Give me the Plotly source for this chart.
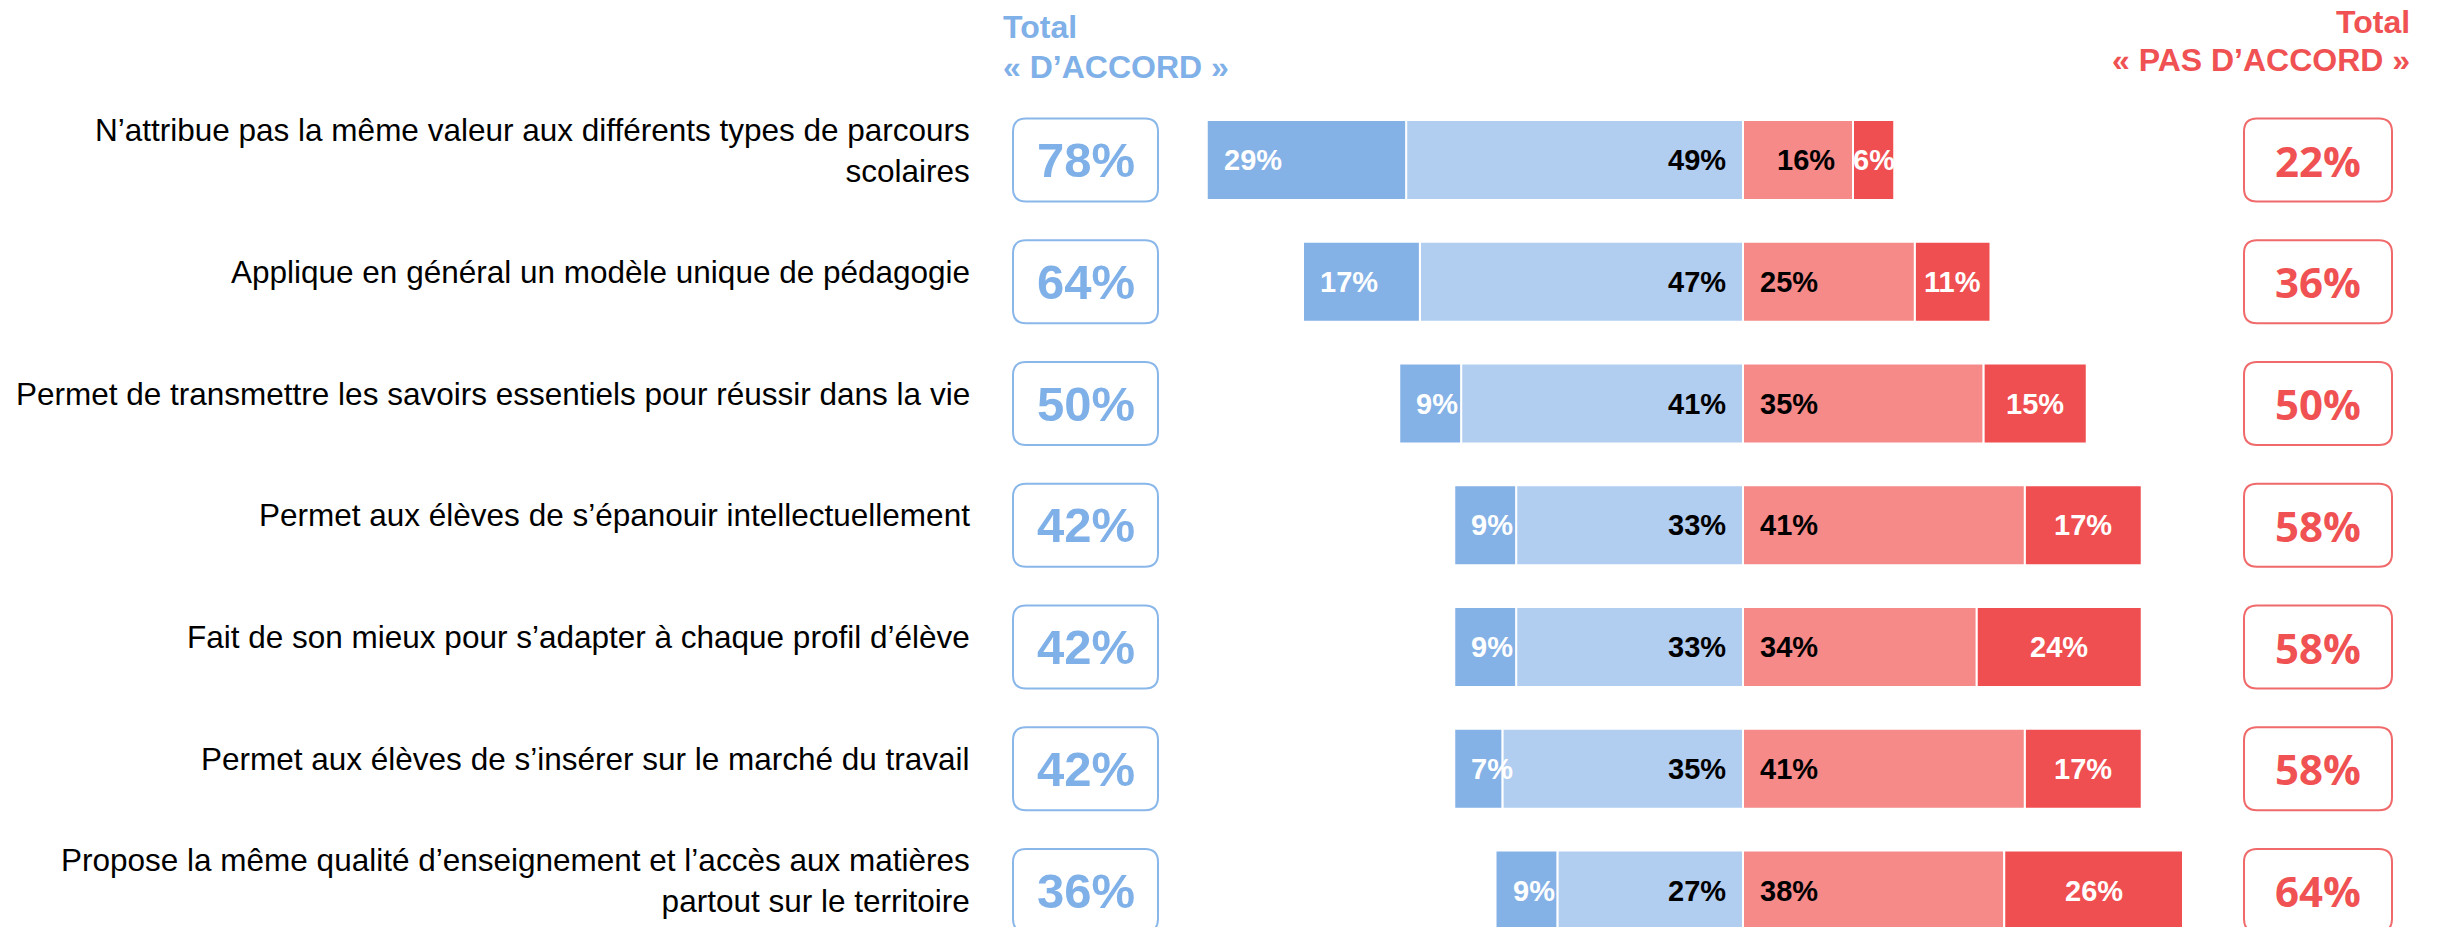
import plotly.graph_objects as go

# ---------------- data ----------------
items = [
    "N’attribue pas la même valeur aux différents types de parcours<br>scolaires",
    "Applique en général un modèle unique de pédagogie",
    "Permet de transmettre les savoirs essentiels pour réussir dans la vie",
    "Permet aux élèves de s’épanouir intellectuellement",
    "Fait de son mieux pour s’adapter à chaque profil d’élève",
    "Permet aux élèves de s’insérer sur le marché du travail",
    "Propose la même qualité d’enseignement et l’accès aux matières<br>partout sur le territoire",
]
tout_a_fait_accord = [29, 17, 9, 9, 9, 7, 9]
plutot_accord = [49, 47, 41, 33, 33, 35, 27]
plutot_pas_accord = [16, 25, 35, 41, 34, 41, 38]
pas_du_tout_accord = [6, 11, 15, 17, 24, 17, 26]
total_accord = [78, 64, 50, 42, 42, 42, 36]
total_pas_accord = [22, 36, 50, 58, 58, 58, 64]
header_accord = ["Total", "« D’ACCORD »"]
header_pas = ["Total", "« PAS D’ACCORD »"]

# ---------------- styling ----------------
W, H = 2438, 927
C_DB = "#84B1E6"
C_LB = "#B1CDF0"
C_LR = "#F58A89"
C_DR = "#F04F51"
C_HB = "#7FB0E8"
C_HR = "#F05253"

def px_x(p):  # page px -> paper x
    return p / W

def px_y(p):  # page px -> paper y
    return 1 - p / H

rows = list(range(len(items)))
px_per_pct = 6.875
center_px = 1743
x0 = -center_px / px_per_pct
x1 = x0 + W / px_per_pct
row_px = 121.75
first_px = 160.0
y_top = -first_px / row_px
y_bot = y_top + H / row_px
bar_w = 80 / row_px

fig = go.Figure()
line = dict(color="white", width=2)
fig.add_trace(go.Bar(y=rows, x=plutot_accord, base=[-v for v in plutot_accord],
                     orientation="h", marker=dict(color=C_LB, line=line), width=bar_w,
                     hoverinfo="skip"))
fig.add_trace(go.Bar(y=rows, x=tout_a_fait_accord,
                     base=[-(a + b) for a, b in zip(plutot_accord, tout_a_fait_accord)],
                     orientation="h", marker=dict(color=C_DB, line=line), width=bar_w,
                     hoverinfo="skip"))
fig.add_trace(go.Bar(y=rows, x=plutot_pas_accord, base=[0] * len(rows),
                     orientation="h", marker=dict(color=C_LR, line=line), width=bar_w,
                     hoverinfo="skip"))
fig.add_trace(go.Bar(y=rows, x=pas_du_tout_accord, base=plutot_pas_accord,
                     orientation="h", marker=dict(color=C_DR, line=line), width=bar_w,
                     hoverinfo="skip"))

ann = []
shapes = []
bar_font = dict(family="Liberation Sans, Arial", size=29, weight="bold")
lab_font = dict(family="Liberation Sans, Arial", size=31.5, color="#000000")

def rrect(p0, p1, yc, hpx, r, color):
    xa, xb = px_x(p0), px_x(p1)
    rx = r / W
    ya = yc - hpx / 2 / row_px
    yb = yc + hpx / 2 / row_px
    ry = r / row_px
    path = (f"M {xa+rx},{ya} L {xb-rx},{ya} Q {xb},{ya} {xb},{ya+ry} "
            f"L {xb},{yb-ry} Q {xb},{yb} {xb-rx},{yb} L {xa+rx},{yb} "
            f"Q {xa},{yb} {xa},{yb-ry} L {xa},{ya+ry} Q {xa},{ya} {xa+rx},{ya} Z")
    return dict(type="path", path=path, xref="paper", yref="y",
                line=dict(color=color, width=2), fillcolor="rgba(0,0,0,0)", layer="above")

for i in rows:
    # row labels
    ann.append(dict(x=px_x(972), xref="paper", y=i, yref="y", text=items[i],
                    xanchor="right", yanchor="middle", align="right", showarrow=False,
                    font=lab_font, yshift=10))
    # segment labels
    ann.append(dict(x=-total_accord[i], y=i, xref="x", yref="y",
                    text=f"{tout_a_fait_accord[i]}%", xanchor="left", xshift=15,
                    showarrow=False, font=dict(bar_font, color="white")))
    ann.append(dict(x=0, y=i, xref="x", yref="y", text=f"{plutot_accord[i]}%",
                    xanchor="right", xshift=-15, showarrow=False,
                    font=dict(bar_font, color="black")))
    if plutot_pas_accord[i] < 20:
        ann.append(dict(x=plutot_pas_accord[i] / 2, y=i, xref="x", yref="y",
                        text=f"{plutot_pas_accord[i]}%", xanchor="center", xshift=8,
                        showarrow=False, font=dict(bar_font, color="black")))
    else:
        ann.append(dict(x=0, y=i, xref="x", yref="y", text=f"{plutot_pas_accord[i]}%",
                        xanchor="left", xshift=15, showarrow=False,
                        font=dict(bar_font, color="black")))
    ann.append(dict(x=plutot_pas_accord[i] + pas_du_tout_accord[i] / 2, y=i,
                    xref="x", yref="y", text=f"{pas_du_tout_accord[i]}%",
                    xanchor="center", showarrow=False, font=dict(bar_font, color="white")))
    # totals boxes
    shapes.append(rrect(1013, 1158, i, 83, 13, "#8AB7EA"))
    shapes.append(rrect(2244, 2392, i, 83, 13, "#F06A6B"))
    ann.append(dict(x=px_x(1085.5), xref="paper", y=i, yref="y", text=f"{total_accord[i]}%",
                    xanchor="center", showarrow=False,
                    font=dict(family="Liberation Sans, Arial", size=49, weight="bold", color=C_HB)))
    ann.append(dict(x=px_x(2318), xref="paper", y=i, yref="y", text=f"{total_pas_accord[i]}%",
                    xanchor="center", showarrow=False,
                    font=dict(family="Open Sans", size=42, weight="bold", color=C_HR)))

hfont_b = dict(family="Liberation Sans, Arial", size=32, weight="bold", color=C_HB)
hfont_r = dict(family="Liberation Sans, Arial", size=32, weight="bold", color=C_HR)
ann.append(dict(x=px_x(1001), y=px_y(27), xref="paper", yref="paper", text=header_accord[0],
                xanchor="left", yanchor="middle", showarrow=False, font=hfont_b))
ann.append(dict(x=px_x(1001), y=px_y(67), xref="paper", yref="paper", text=header_accord[1],
                xanchor="left", yanchor="middle", showarrow=False, font=hfont_b))
ann.append(dict(x=px_x(2412), y=px_y(22), xref="paper", yref="paper", text=header_pas[0],
                xanchor="right", yanchor="middle", showarrow=False, font=hfont_r))
ann.append(dict(x=px_x(2412), y=px_y(60), xref="paper", yref="paper", text=header_pas[1],
                xanchor="right", yanchor="middle", showarrow=False, font=hfont_r))

fig.update_layout(
    width=W, height=H, margin=dict(l=0, r=0, t=0, b=0),
    paper_bgcolor="white", plot_bgcolor="white",
    barmode="overlay", showlegend=False,
    xaxis=dict(range=[x0, x1], visible=False, fixedrange=True),
    yaxis=dict(range=[y_bot, y_top], visible=False, fixedrange=True),
    annotations=ann, shapes=shapes,
)
fig.write_html("out.html", config={"displayModeBar": False},
               post_script="document.body.style.margin='0';document.body.style.overflow='hidden';")
